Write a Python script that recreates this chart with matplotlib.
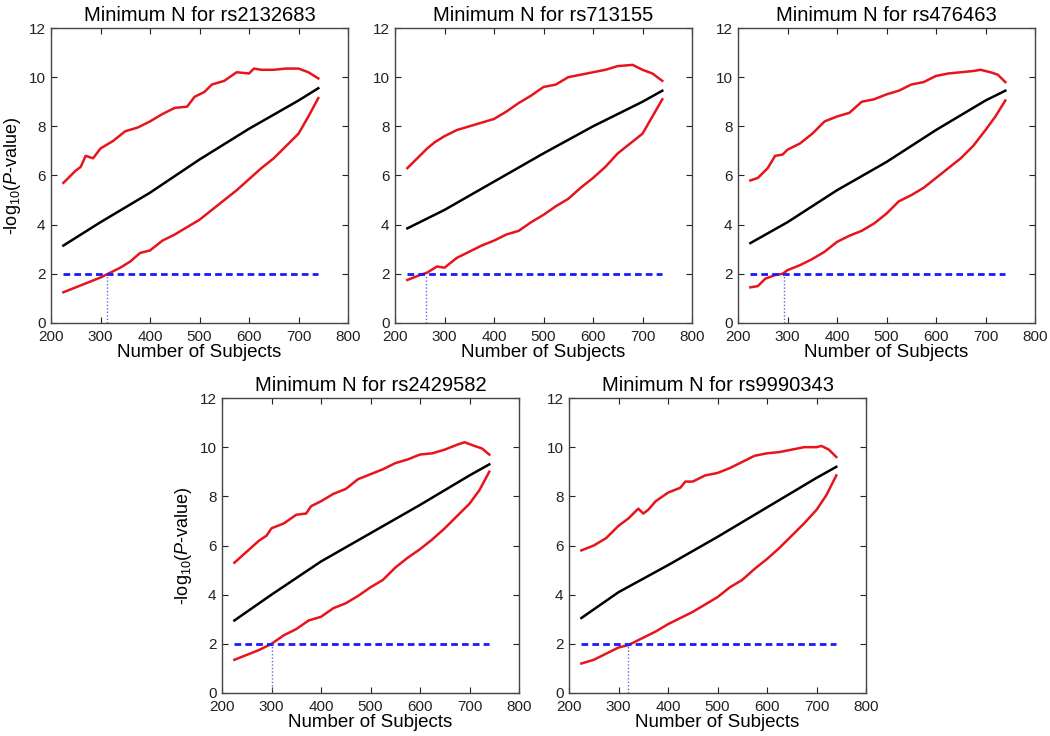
import matplotlib
matplotlib.use("Agg")
import matplotlib.pyplot as plt

plt.rcParams['font.family'] = ['Liberation Sans', 'DejaVu Sans']
plt.rcParams['mathtext.fontset'] = 'custom'
plt.rcParams['mathtext.rm'] = 'Liberation Sans'
plt.rcParams['mathtext.it'] = 'Liberation Sans:italic'

snps = ["rs2132683", "rs713155", "rs476463", "rs2429582", "rs9990343"]
threshold = 2.0
min_n = [313, 263, 292, 300, 320]

# upper red curves
up_x1 = [225, 240, 250, 260, 270, 285, 300, 325, 350, 375, 400, 425, 450, 475, 490, 510, 525, 550, 575, 600, 610, 625, 650, 675, 700, 720, 740]
up_y1 = [5.7, 6.0, 6.2, 6.35, 6.8, 6.7, 7.1, 7.4, 7.8, 7.95, 8.2, 8.5, 8.75, 8.8, 9.2, 9.4, 9.7, 9.85, 10.2, 10.15, 10.35, 10.3, 10.3, 10.35, 10.35, 10.2, 9.95]
up_x2 = [225, 250, 265, 280, 300, 325, 350, 375, 400, 425, 450, 475, 500, 525, 550, 575, 600, 625, 650, 680, 700, 720, 740]
up_y2 = [6.3, 6.8, 7.1, 7.35, 7.6, 7.85, 8.0, 8.15, 8.3, 8.6, 8.95, 9.25, 9.6, 9.7, 10.0, 10.1, 10.2, 10.3, 10.45, 10.5, 10.3, 10.15, 9.85]
up_x3 = [225, 240, 260, 275, 290, 300, 325, 350, 375, 400, 425, 450, 475, 500, 525, 550, 575, 600, 625, 650, 675, 690, 710, 725, 740]
up_y3 = [5.8, 5.9, 6.3, 6.8, 6.85, 7.05, 7.3, 7.7, 8.2, 8.4, 8.55, 9.0, 9.1, 9.3, 9.45, 9.7, 9.8, 10.05, 10.15, 10.2, 10.25, 10.3, 10.2, 10.1, 9.8]
up_x4 = [225, 250, 275, 290, 300, 325, 350, 370, 380, 400, 425, 450, 475, 500, 525, 550, 575, 600, 625, 650, 675, 690, 710, 725, 740]
up_y4 = [5.3, 5.75, 6.2, 6.4, 6.7, 6.9, 7.25, 7.3, 7.6, 7.8, 8.1, 8.3, 8.7, 8.9, 9.1, 9.35, 9.5, 9.7, 9.75, 9.9, 10.1, 10.2, 10.05, 9.95, 9.7]
up_x5 = [225, 250, 275, 300, 320, 340, 350, 360, 375, 400, 425, 435, 450, 475, 500, 525, 550, 575, 600, 625, 650, 675, 700, 710, 725, 740]
up_y5 = [5.8, 6.0, 6.3, 6.8, 7.1, 7.5, 7.3, 7.45, 7.8, 8.15, 8.35, 8.6, 8.6, 8.85, 8.95, 9.15, 9.4, 9.65, 9.75, 9.8, 9.9, 10.0, 10.0, 10.05, 9.9, 9.6]

# black (median) curves
mid_x = [225, 300, 400, 500, 600, 700, 740]
mid_y1 = [3.15, 4.1, 5.3, 6.65, 7.9, 9.05, 9.55]
mid_y2 = [3.85, 4.6, 5.75, 6.9, 8.0, 9.0, 9.45]
mid_y3 = [3.25, 4.1, 5.4, 6.55, 7.85, 9.05, 9.45]
mid_y4 = [2.95, 4.0, 5.35, 6.5, 7.65, 8.85, 9.3]
mid_y5 = [3.05, 4.1, 5.2, 6.35, 7.55, 8.75, 9.2]

# lower red curves
lo_x1 = [225, 250, 275, 300, 315, 340, 360, 380, 400, 425, 450, 475, 500, 525, 550, 575, 600, 625, 650, 675, 700, 720, 740]
lo_y1 = [1.25, 1.45, 1.65, 1.85, 2.0, 2.25, 2.5, 2.85, 2.95, 3.35, 3.6, 3.9, 4.2, 4.6, 5.0, 5.4, 5.85, 6.3, 6.7, 7.2, 7.7, 8.4, 9.15]
lo_x2 = [225, 250, 265, 285, 300, 325, 350, 375, 400, 425, 450, 475, 500, 525, 550, 575, 600, 625, 650, 675, 700, 720, 740]
lo_y2 = [1.75, 1.95, 2.05, 2.3, 2.25, 2.65, 2.9, 3.15, 3.35, 3.6, 3.75, 4.1, 4.4, 4.75, 5.05, 5.5, 5.9, 6.35, 6.9, 7.3, 7.7, 8.4, 9.1]
lo_x3 = [225, 240, 255, 275, 290, 300, 325, 350, 375, 400, 425, 450, 475, 500, 525, 550, 575, 600, 625, 650, 675, 700, 720, 740]
lo_y3 = [1.45, 1.5, 1.8, 1.95, 2.0, 2.15, 2.35, 2.6, 2.9, 3.3, 3.55, 3.75, 4.05, 4.45, 4.95, 5.2, 5.5, 5.9, 6.3, 6.7, 7.2, 7.85, 8.4, 9.05]
lo_x4 = [225, 250, 275, 300, 325, 350, 375, 400, 425, 450, 475, 500, 525, 550, 575, 600, 625, 650, 675, 700, 720, 740]
lo_y4 = [1.35, 1.55, 1.75, 2.0, 2.35, 2.6, 2.95, 3.1, 3.45, 3.65, 3.95, 4.3, 4.6, 5.1, 5.5, 5.85, 6.25, 6.7, 7.2, 7.7, 8.25, 9.0]
lo_x5 = [225, 250, 275, 300, 320, 340, 375, 400, 425, 450, 475, 500, 525, 550, 575, 600, 625, 650, 675, 700, 720, 740]
lo_y5 = [1.2, 1.35, 1.6, 1.85, 1.95, 2.15, 2.5, 2.8, 3.05, 3.3, 3.6, 3.9, 4.3, 4.6, 5.05, 5.45, 5.9, 6.4, 6.9, 7.45, 8.05, 8.85]

xticks = [200, 300, 400, 500, 600, 700, 800]
yticks = [0, 2, 4, 6, 8, 10, 12]

ups = [(up_x1, up_y1), (up_x2, up_y2), (up_x3, up_y3), (up_x4, up_y4), (up_x5, up_y5)]
mids = [mid_y1, mid_y2, mid_y3, mid_y4, mid_y5]
los = [(lo_x1, lo_y1), (lo_x2, lo_y2), (lo_x3, lo_y3), (lo_x4, lo_y4), (lo_x5, lo_y5)]

W, H = 1050, 736
fig = plt.figure(figsize=(W / 100, H / 100), dpi=100)
boxes = [(51, 28), (395, 28), (738, 28), (222, 398), (569, 398)]
aw, ah = 297, 295

for i, (lx, ty) in enumerate(boxes):
    ax = fig.add_axes([lx / W, 1 - (ty + ah) / H, aw / W, ah / H])
    ux, uy = ups[i]
    lx_, ly_ = los[i]
    ax.plot(ux, uy, color='#e8141b', lw=1.8)
    ax.plot(lx_, ly_, color='#e8141b', lw=1.8)
    ax.plot(mid_x, mids[i], color='black', lw=1.8)
    ax.plot([225, 740], [threshold, threshold], color='#1a1aff', lw=2.0, ls=(0, (2.4, 1.5)))
    ax.plot([min_n[i], min_n[i]], [0, threshold], color='#6666dd', lw=1.0, ls=(0, (1, 1.5)))
    ax.set_xlim(200, 800)
    ax.set_ylim(0, 12)
    ax.set_xticks(xticks)
    ax.set_yticks(yticks)
    ax.tick_params(direction='in', top=True, right=True, labelsize=11, length=4, colors='#222222')
    ax.tick_params(axis='x', pad=5)
    ax.tick_params(axis='y', pad=4)
    for s in ax.spines.values():
        s.set_color('#444444')
        s.set_linewidth(1)
    ax.set_title("Minimum N for " + snps[i], fontsize=14.5, pad=5)
    ax.set_xlabel("Number of Subjects", fontsize=13.5, labelpad=0)
    if i in (0, 3):
        ax.set_ylabel(r"-log$_{10}$($\mathit{P}$-value)", fontsize=13, labelpad=4)

fig.savefig("out.png", dpi=100)
